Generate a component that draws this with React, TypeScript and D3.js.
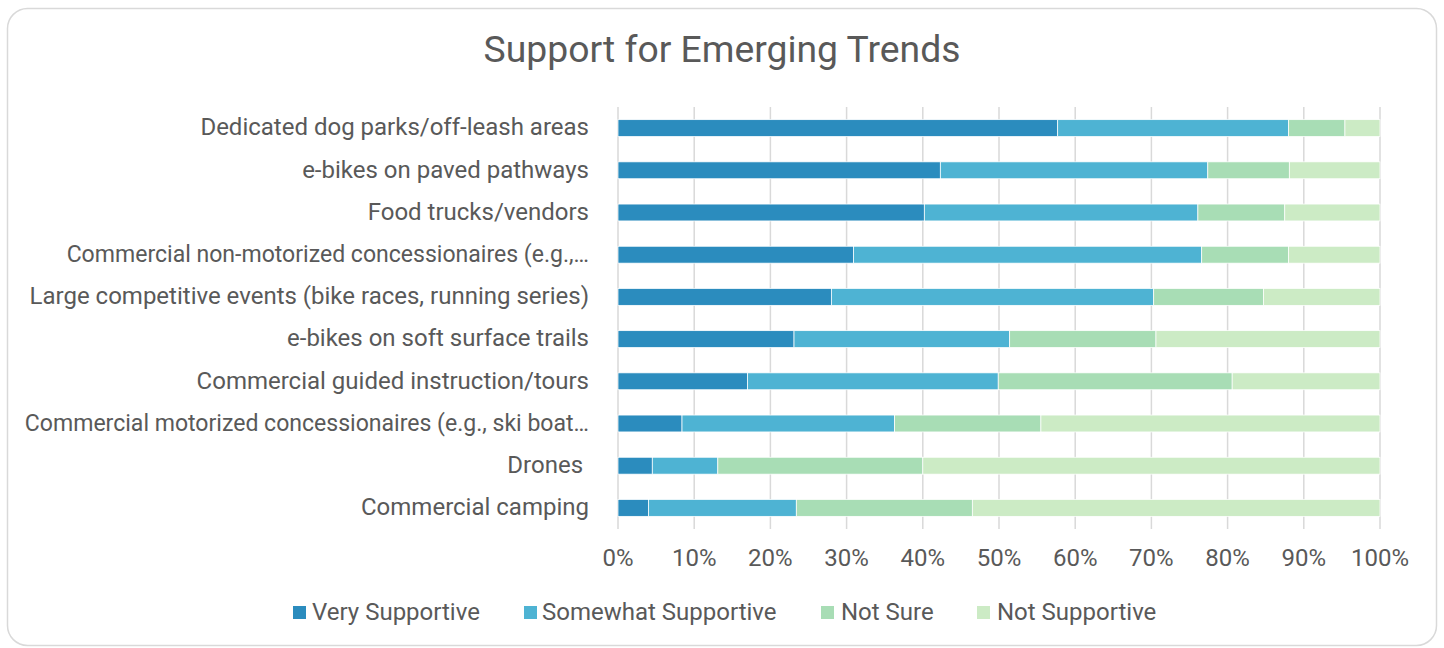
import React from "react";
import * as d3 from "d3";

const categories = [
  "Dedicated dog parks/off-leash areas",
  "e-bikes on paved pathways",
  "Food trucks/vendors",
  "Commercial non-motorized concessionaires (e.g.,…",
  "Large competitive events (bike races, running series)",
  "e-bikes on soft surface trails",
  "Commercial guided instruction/tours",
  "Commercial motorized concessionaires (e.g., ski boat…",
  "Drones\u00a0",
  "Commercial camping",
];

const seriesNames = ["Very Supportive", "Somewhat Supportive", "Not Sure", "Not Supportive"];
const seriesColors = ["#2b8cbe", "#4eb3d3", "#a8ddb5", "#ccebc5"];

const verySupportive = [57.7, 42.3, 40.2, 30.9, 28.0, 23.1, 17.0, 8.4, 4.5, 4.0];
const somewhatSupportive = [30.3, 35.1, 35.9, 45.7, 42.3, 28.3, 32.9, 27.9, 8.6, 19.4];
const notSure = [7.4, 10.7, 11.4, 11.4, 14.4, 19.2, 30.7, 19.2, 26.9, 23.1];
const notSupportive = [4.6, 11.9, 12.5, 12.0, 15.3, 29.4, 19.4, 44.5, 60.0, 53.5];

const xTicks = [0, 10, 20, 30, 40, 50, 60, 70, 80, 90, 100];

const W = 1444;
const H = 648;
const FONT = "Roboto, 'Noto Sans', Arial, sans-serif";
const TEXT = "#595959";
const TRUNC_SCALE = 0.96;

function Label({ c, x, y }: { c: string; x: number; y: number }) {
  const truncated = c.endsWith("…");
  const ref = React.useRef<SVGTextElement>(null);
  const [len, setLen] = React.useState<number | null>(null);
  React.useLayoutEffect(() => {
    if (truncated && ref.current) {
      setLen(ref.current.getComputedTextLength() * TRUNC_SCALE);
    }
  }, [c]);
  return (
    <text
      ref={ref}
      x={x}
      y={y}
      dy="0.3em"
      textAnchor="end"
      fontSize={24}
      fill={TEXT}
      {...(truncated && len ? { textLength: len, lengthAdjust: "spacingAndGlyphs" } : {})}
    >
      {c}
    </text>
  );
}

export default function App() {
  const rows = categories.map((c, i) => ({
    cat: c,
    s0: verySupportive[i],
    s1: somewhatSupportive[i],
    s2: notSure[i],
    s3: notSupportive[i],
  }));
  const keys = ["s0", "s1", "s2", "s3"];
  const stacked = d3.stack<any>().keys(keys)(rows);

  const x = d3.scaleLinear().domain([0, 100]).range([618, 1380]);
  const y = d3.scaleBand().domain(categories).range([107, 529]).paddingInner(0.6).paddingOuter(0.3);

  const legendItems = [
    { sx: 293, tx: 312 },
    { sx: 524, tx: 542 },
    { sx: 821, tx: 841 },
    { sx: 977, tx: 997 },
  ];

  return (
    <svg
      width={W}
      height={H}
      style={{ position: "absolute", left: 0, top: 0, display: "block", background: "#fff" }}
      fontFamily={FONT}
    >
      <rect x={7.5} y={8.5} width={1429} height={637} rx={20} ry={20} fill="#fff" stroke="#d9d9d9" strokeWidth={1.5} />
      <text x={722} y={62} textAnchor="middle" fontSize={37.3} fill={TEXT}>
        Support for Emerging Trends
      </text>

      {xTicks.map((t) => (
        <g key={t}>
          <line x1={x(t)} x2={x(t)} y1={107} y2={529} stroke="#d9d9d9" strokeWidth={1.5} />
          <text x={x(t)} y={566} textAnchor="middle" fontSize={24} fill={TEXT}>
            {t}%
          </text>
        </g>
      ))}

      {stacked.map((layer, li) => (
        <g key={li} fill={seriesColors[li]}>
          {layer.map((d: any, i: number) => (
            <rect
              key={i}
              x={x(d[0])}
              width={x(d[1]) - x(d[0])}
              y={y(categories[i])}
              height={y.bandwidth()}
              stroke="#fff"
              strokeWidth={0.75}
            />
          ))}
        </g>
      ))}

      {categories.map((c) => (
        <Label key={c} c={c} x={589} y={(y(c) as number) + y.bandwidth() / 2} />
      ))}

      {seriesNames.map((n, i) => (
        <g key={n}>
          <rect x={legendItems[i].sx} y={606} width={13} height={13} fill={seriesColors[i]} />
          <text x={legendItems[i].tx} y={620} fontSize={24} fill={TEXT}>
            {n}
          </text>
        </g>
      ))}
    </svg>
  );
}
